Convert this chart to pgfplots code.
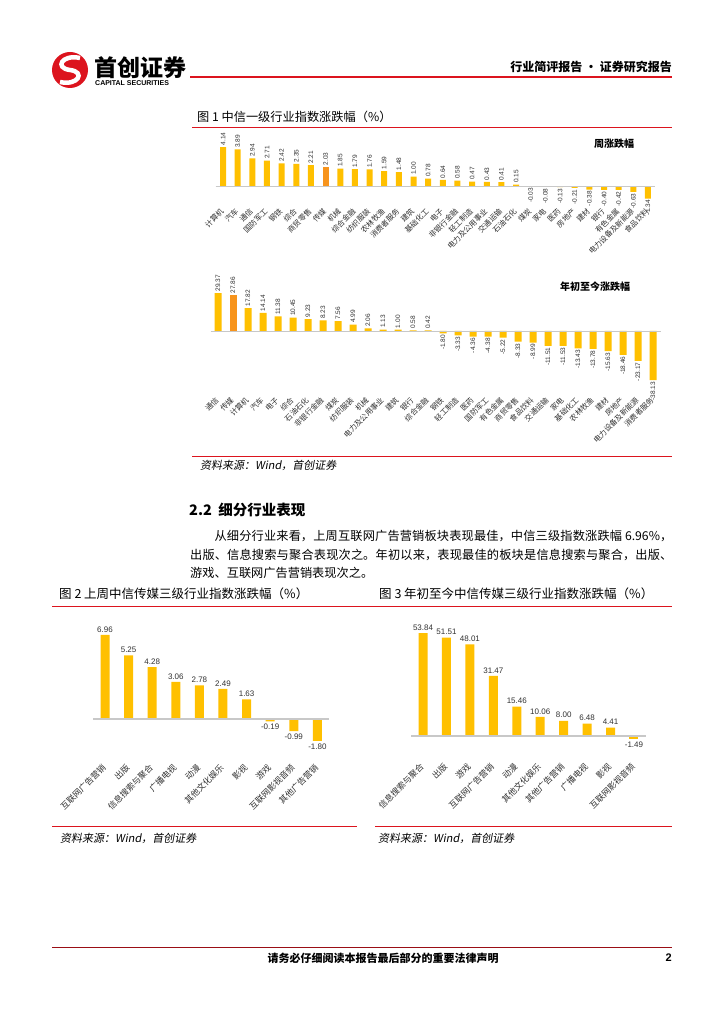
\documentclass[border=0pt]{standalone}
\usepackage{fontspec}
\usepackage{pgfplots}
\pgfplotsset{compat=1.18}
\setmainfont{Liberation Sans}
\newfontfamily\cjk{Noto Sans CJK SC}
\newfontfamily\cjkit{Noto Sans CJK SC}[FakeSlant=0.18]
\XeTeXlinebreaklocale "zh"
\XeTeXlinebreakskip=0pt plus 1pt
\definecolor{barY}{RGB}{255,192,0}
\definecolor{barO}{RGB}{247,148,29}
\definecolor{redline}{RGB}{220,20,30}
\definecolor{zline}{RGB}{200,200,200}
\definecolor{lab}{RGB}{50,50,50}
\pgfplotsset{
  pagebar/.style={scale only axis, clip=false, axis line style={draw=none},
    ytick=\empty, tick style={draw=none}, major tick length=0pt,
    ybar, bar shift=0pt,
    /pgf/number format/fixed, /pgf/number format/fixed zerofill,
    /pgf/number format/precision=2, /pgf/number format/assume math mode=true},
}
\begin{document}
\begin{tikzpicture}
\fill[white] (0pt,0pt) rectangle (724pt,-1024pt);
\path[use as bounding box] (0pt,0pt) rectangle (724pt,-1024pt);
% ---------- header ----------
\fill[redline] (70pt,-70pt) circle (18pt);
\draw[white, line width=4.5pt] (80pt,-58pt) .. controls (62pt,-54pt) and (54pt,-68pt) .. (70pt,-70pt) .. controls (86pt,-72pt) and (78pt,-86pt) .. (60pt,-82pt);
\node[anchor=west, inner sep=0pt, font=\cjk\bfseries\fontsize{23}{23}\selectfont] at (94pt,-68pt) {首创证券};
\node[anchor=west, inner sep=0pt, font=\bfseries\fontsize{7}{7}\selectfont] at (95pt,-83.5pt) {CAPITAL SECURITIES};
\draw[redline, line width=2pt] (190pt,-77.5pt) -- (672pt,-77.5pt);
\node[anchor=east, inner sep=0pt, font=\cjk\bfseries\fontsize{12}{12}\selectfont] at (672pt,-67pt) {行业简评报告 · 证券研究报告};
% ---------- figure 1 ----------
\node[anchor=west, inner sep=0pt, font=\cjk\fontsize{12.2}{12.2}\selectfont] at (197pt,-117pt) {图 1 中信一级行业指数涨跌幅（\%）};
\draw[redline, line width=1pt] (192pt,-127.5pt) -- (672pt,-127.5pt);

\begin{axis}[pagebar, at={(215.7pt,-209.5pt)}, anchor=south west,
  width=439.6pt, height=65.8pt, xmin=-0.5, xmax=29.5, ymin=-2.5, ymax=4.5,
  bar width=6pt, xtick={0,...,29},
  xticklabels={计算机,汽车,通信,国防军工,钢铁,综合,商贸零售,传媒,机械,综合金融,纺织服装,农林牧渔,消费者服务,建筑,基础化工,电子,非银行金融,轻工制造,电力及公用事业,交通运输,石油石化,煤炭,家电,医药,房地产,建材,银行,有色金属,电力设备及新能源,食品饮料},
  xticklabel style={rotate=45, anchor=east, inner sep=1pt, font=\cjk\fontsize{7.5}{7.5}\selectfont, text=lab},
  nodes near coords, every node near coord/.append style={font=\fontsize{6.5}{6.5}\selectfont, text=lab, rotate=90, inner sep=1.5pt}]
\addplot[fill=barY, draw=none, every node near coord/.append style={anchor=west}] coordinates {(0,4.14) (1,3.89) (2,2.94) (3,2.71) (4,2.42) (5,2.35) (6,2.21) (8,1.85) (9,1.79) (10,1.76) (11,1.59) (12,1.48) (13,1.00) (14,0.78) (15,0.64) (16,0.58) (17,0.47) (18,0.43) (19,0.41) (20,0.15)};
\addplot[fill=barO, draw=none, every node near coord/.append style={anchor=west}] coordinates {(7,2.03)};
\addplot[fill=barY, draw=none, every node near coord/.append style={anchor=east}] coordinates {(21,-0.03) (22,-0.08) (23,-0.13) (24,-0.21) (25,-0.38) (26,-0.40) (27,-0.42) (28,-0.63) (29,-1.34)};
\addplot[sharp plot, draw=zline, line width=0.8pt, forget plot, nodes near coords={}] coordinates {(-0.5,0) (29.5,0)};
\end{axis}
\node[anchor=center, inner sep=0pt, font=\cjk\bfseries\fontsize{10}{10}\selectfont] at (614pt,-144pt) {周涨跌幅};

\begin{axis}[pagebar, at={(210.5pt,-398.1pt)}, anchor=south west,
  width=450pt, height=108.4pt, xmin=-0.5, xmax=29.5, ymin=-52, ymax=32,
  bar width=7pt, xtick={0,...,29},
  xticklabels={通信,传媒,计算机,汽车,电子,综合,石油石化,非银行金融,煤炭,纺织服装,机械,电力及公用事业,建筑,银行,综合金融,钢铁,轻工制造,医药,国防军工,有色金属,商贸零售,食品饮料,交通运输,家电,基础化工,农林牧渔,建材,房地产,电力设备及新能源,消费者服务},
  xticklabel style={rotate=45, anchor=east, inner sep=1pt, font=\cjk\fontsize{7.5}{7.5}\selectfont, text=lab},
  nodes near coords, every node near coord/.append style={font=\fontsize{6.5}{6.5}\selectfont, text=lab, rotate=90, inner sep=1.5pt}]
\addplot[fill=barY, draw=none, every node near coord/.append style={anchor=west}] coordinates {(0,29.37) (2,17.82) (3,14.14) (4,11.38) (5,10.45) (6,9.23) (7,8.23) (8,7.56) (9,4.99) (10,2.06) (11,1.13) (12,1.00) (13,0.58) (14,0.42)};
\addplot[fill=barO, draw=none, every node near coord/.append style={anchor=west}] coordinates {(1,27.86)};
\addplot[fill=barY, draw=none, every node near coord/.append style={anchor=east}] coordinates {(15,-1.80) (16,-3.33) (17,-4.36) (18,-4.38) (19,-5.22) (20,-8.33) (21,-8.99) (22,-11.51) (23,-11.53) (24,-13.43) (25,-13.78) (26,-15.63) (27,-18.46) (28,-23.17) (29,-38.13)};
\addplot[sharp plot, draw=zline, line width=0.8pt, forget plot, nodes near coords={}] coordinates {(-0.5,0) (29.5,0)};
\end{axis}
\node[anchor=center, inner sep=0pt, font=\cjk\bfseries\fontsize{10}{10}\selectfont] at (595pt,-287pt) {年初至今涨跌幅};

\draw[redline, line width=1pt] (192pt,-456pt) -- (672pt,-456pt);
\node[anchor=west, inner sep=0pt, font=\cjkit\fontsize{11}{11}\selectfont] at (200pt,-465.5pt) {资料来源：Wind，首创证券};
% ---------- section text ----------
\node[anchor=west, inner sep=0pt, font=\cjk\bfseries\fontsize{14.5}{14.5}\selectfont] at (189pt,-510pt) {2.2\hspace{0.45em}细分行业表现};
\node[anchor=north west, inner sep=0pt, text width=482pt, align=justify, font=\cjk\fontsize{12.2}{18.5}\selectfont] at (190pt,-530pt) {\hspace*{2em}从细分行业来看，上周互联网广告营销板块表现最佳，中信三级指数涨跌幅 6.96\%，\linebreak 出版、信息搜索与聚合表现次之。年初以来，表现最佳的板块是信息搜索与聚合，出版、\linebreak 游戏、互联网广告营销表现次之。};
% ---------- figure 2 and 3 ----------
\node[anchor=west, inner sep=0pt, font=\cjk\fontsize{12.5}{12.5}\selectfont] at (59pt,-594pt) {图 2 上周中信传媒三级行业指数涨跌幅（\%）};
\node[anchor=west, inner sep=0pt, font=\cjk\fontsize{12.5}{12.5}\selectfont] at (379pt,-594pt) {图 3 年初至今中信传媒三级行业指数涨跌幅（\%）};
\draw[redline, line width=1pt] (52pt,-606pt) -- (672pt,-606pt);

\begin{axis}[pagebar, at={(93.2pt,-765pt)}, anchor=south west,
  width=236pt, height=142.8pt, xmin=-0.5, xmax=9.5, ymin=-3.8, ymax=8,
  bar width=9pt, xtick={0,...,9},
  xticklabels={互联网广告营销,出版,信息搜索与聚合,广播电视,动漫,其他文化娱乐,影视,游戏,互联网影视音频,其他广告营销},
  xticklabel style={rotate=45, anchor=east, inner sep=1pt, font=\cjk\fontsize{8.5}{8.5}\selectfont, text=lab},
  nodes near coords, every node near coord/.append style={font=\fontsize{8}{8}\selectfont, text=lab, inner sep=2.5pt}]
\addplot[fill=barY, draw=none, every node near coord/.append style={anchor=south}] coordinates {(0,6.96) (1,5.25) (2,4.28) (3,3.06) (4,2.78) (5,2.49) (6,1.63)};
\addplot[fill=barY, draw=none, every node near coord/.append style={anchor=north}] coordinates {(7,-0.19) (8,-0.99) (9,-1.80)};
\addplot[sharp plot, draw=zline, line width=1.2pt, forget plot, nodes near coords={}] coordinates {(-0.5,0) (9.5,0)};
\end{axis}

\begin{axis}[pagebar, at={(411.3pt,-764.7pt)}, anchor=south west,
  width=234.4pt, height=143.3pt, xmin=-0.5, xmax=9.5, ymin=-15, ymax=60,
  bar width=9pt, xtick={0,...,9},
  xticklabels={信息搜索与聚合,出版,游戏,互联网广告营销,动漫,其他文化娱乐,其他广告营销,广播电视,影视,互联网影视音频},
  xticklabel style={rotate=45, anchor=east, inner sep=1pt, font=\cjk\fontsize{8.5}{8.5}\selectfont, text=lab},
  nodes near coords, every node near coord/.append style={font=\fontsize{8}{8}\selectfont, text=lab, inner sep=2.5pt}]
\addplot[fill=barY, draw=none, every node near coord/.append style={anchor=south}] coordinates {(0,53.84) (1,51.51) (2,48.01) (3,31.47) (4,15.46) (5,10.06) (6,8.00) (7,6.48) (8,4.41)};
\addplot[fill=barY, draw=none, every node near coord/.append style={anchor=north}] coordinates {(9,-1.49)};
\addplot[sharp plot, draw=zline, line width=1.2pt, forget plot, nodes near coords={}] coordinates {(-0.5,0) (9.5,0)};
\end{axis}

\draw[redline, line width=1pt] (52pt,-826pt) -- (357pt,-826pt);
\draw[redline, line width=1pt] (375pt,-826pt) -- (672pt,-826pt);
\node[anchor=west, inner sep=0pt, font=\cjkit\fontsize{11}{11}\selectfont] at (60pt,-838pt) {资料来源：Wind，首创证券};
\node[anchor=west, inner sep=0pt, font=\cjkit\fontsize{11}{11}\selectfont] at (378pt,-838pt) {资料来源：Wind，首创证券};
% ---------- footer ----------
\draw[redline!70!black, line width=0.8pt] (52pt,-947pt) -- (672pt,-947pt);
\node[anchor=center, inner sep=0pt, font=\cjk\bfseries\fontsize{11}{11}\selectfont] at (383pt,-958pt) {请务必仔细阅读本报告最后部分的重要法律声明};
\node[anchor=east, inner sep=0pt, font=\bfseries\fontsize{11}{11}\selectfont] at (672pt,-958pt) {2};
\end{tikzpicture}
\end{document}
